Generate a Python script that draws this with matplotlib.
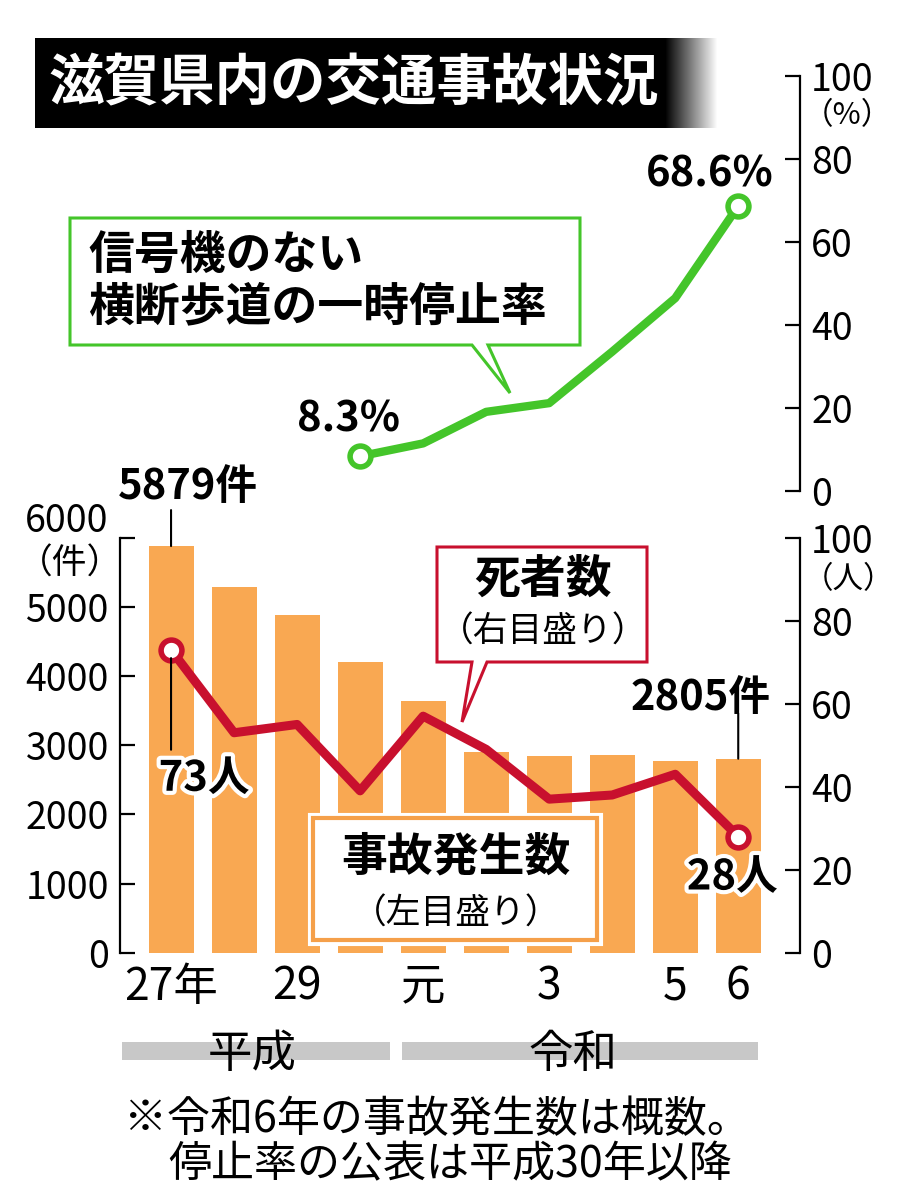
import matplotlib
matplotlib.use('Agg')
import matplotlib.pyplot as plt
import matplotlib.patheffects as pe
from matplotlib.patches import Rectangle, Polygon
import numpy as np

plt.rcParams['font.family'] = ['Noto Sans CJK JP', 'DejaVu Sans']

# ---------------- data ----------------
year_index = list(range(10))               # 平成27年 .. 令和6年
x_tick_labels = ['27年', '', '29', '', '元', '', '3', '', '5', '6']
accidents = [5879, 5290, 4880, 4210, 3645, 2895, 2845, 2865, 2765, 2805]   # 事故発生数(件)
deaths = [73, 53, 55, 39, 57, 49, 37, 38, 43, 28]                          # 死者数(人)
stop_index = [3, 4, 5, 6, 7, 8, 9]                                         # 平成30年以降
stop_rate = [8.3, 11.4, 19.0, 21.1, 33.5, 46.4, 68.6]                      # 一時停止率(%)
left_ticks = [0, 1000, 2000, 3000, 4000, 5000, 6000]
right_ticks = [0, 20, 40, 60, 80, 100]

# ---------------- style ----------------
W, H = 899, 1200
BAR = '#F9A852'
RED = '#C8102E'
GREEN = '#44C52A'
GRAY = '#C8C8C8'

def fx(x):
    return x / W

def fy(y):
    return 1 - y / H

fig = plt.figure(figsize=(W / 100, H / 100), dpi=100)

XL = (-0.81, 9.98)

# ---------------- bottom panel ----------------
ax = fig.add_axes([fx(120), fy(952.7), 680 / W, 415 / H])
ax.bar(year_index, accidents, width=0.714, color=BAR, zorder=1)
ax.set_xlim(*XL)
ax.set_ylim(0, 6000)
for s in ['top', 'right', 'bottom']:
    ax.spines[s].set_visible(False)
ax.spines['left'].set_linewidth(1.6)
ax.set_yticks(left_ticks)
ax.set_yticklabels([str(t) if t != 6000 else '' for t in left_ticks])
ax.tick_params(axis='y', direction='in', length=11, width=1.6, labelsize=27, pad=8)
ax.set_xticks(year_index)
ax.set_xticklabels(x_tick_labels)
ax.tick_params(axis='x', length=0, labelsize=32, pad=8)
ax.annotate('6000', xy=(0, 6000), xycoords=('axes fraction', 'data'),
            xytext=(-12, 16), textcoords='offset pixels', ha='right', va='center', fontsize=27)
ax.annotate('（件）', xy=(0, 6000), xycoords=('axes fraction', 'data'),
            xytext=(2, -26), textcoords='offset pixels', ha='right', va='center', fontsize=25)

ax2 = ax.twinx()
ax2.set_ylim(0, 100)
ax2.set_xlim(*XL)
for s in ['top', 'left', 'bottom']:
    ax2.spines[s].set_visible(False)
ax2.spines['right'].set_linewidth(1.6)
ax2.set_yticks(right_ticks)
ax2.tick_params(axis='y', direction='in', length=11, width=1.6, labelsize=27, pad=8)
ax2.plot(year_index, deaths, color=RED, lw=6.5, solid_joinstyle='round', zorder=3)
ax2.plot([year_index[0], year_index[-1]], [deaths[0], deaths[-1]], 'o', ms=15,
         mfc='white', mec=RED, mew=4, zorder=4)
ax2.annotate('（人）', xy=(1, 100), xycoords=('axes fraction', 'data'),
             xytext=(3, -42), textcoords='offset pixels', ha='left', va='center', fontsize=22)

bold_kw = dict(fontsize=30, fontweight='bold', ha='center', va='center')
outline = [pe.withStroke(linewidth=6, foreground='white')]

# 5879件
ax.annotate('', xy=(year_index[0], accidents[0]), xytext=(0, 36), textcoords='offset pixels',
            arrowprops=dict(arrowstyle='-', lw=1.5, color='black', shrinkA=0, shrinkB=0))
ax.annotate(f'{accidents[0]}件', xy=(year_index[0], accidents[0]), xytext=(17, 59),
            textcoords='offset pixels', **bold_kw)
# 2805件
ax.annotate('', xy=(year_index[-1], accidents[-1]), xytext=(0, 45), textcoords='offset pixels',
            arrowprops=dict(arrowstyle='-', lw=1.5, color='black', shrinkA=0, shrinkB=0))
ax.annotate(f'{accidents[-1]}件', xy=(year_index[-1], accidents[-1]), xytext=(-38, 61),
            textcoords='offset pixels', **bold_kw)
# 73人
ax2.annotate('', xy=(year_index[0], deaths[0]), xytext=(0, -100), textcoords='offset pixels',
             arrowprops=dict(arrowstyle='-', lw=1.5, color='black', shrinkA=0, shrinkB=6), zorder=5)
ax2.annotate(f'{deaths[0]}人', xy=(year_index[0], deaths[0]), xytext=(33, -129),
             textcoords='offset pixels', path_effects=outline, zorder=6, **bold_kw)
# 28人
ax2.annotate(f'{deaths[-1]}人', xy=(year_index[-1], deaths[-1]), xytext=(-6, -41),
             textcoords='offset pixels', path_effects=outline, zorder=6, **bold_kw)

# ---------------- top panel ----------------
axt = fig.add_axes([fx(120), fy(490.7), 680 / W, 415 / H])
axt.set_xlim(*XL)
axt.set_ylim(0, 100)
axt.patch.set_alpha(0)
for s in ['top', 'left', 'bottom']:
    axt.spines[s].set_visible(False)
axt.spines['right'].set_linewidth(1.6)
axt.set_xticks([])
axt.yaxis.tick_right()
axt.set_yticks(right_ticks)
axt.tick_params(axis='y', direction='in', length=11, width=1.6, labelsize=27, pad=8)
axt.plot(stop_index, stop_rate, color=GREEN, lw=6, solid_joinstyle='round', zorder=3)
axt.plot([stop_index[0], stop_index[-1]], [stop_rate[0], stop_rate[-1]], 'o', ms=15,
         mfc='white', mec=GREEN, mew=4, zorder=4)
axt.annotate('（%）', xy=(1, 100), xycoords=('axes fraction', 'data'),
             xytext=(3, -40), textcoords='offset pixels', ha='left', va='center', fontsize=22)
axt.annotate(f'{stop_rate[0]}%', xy=(stop_index[0], stop_rate[0]), xytext=(-12, 37),
             textcoords='offset pixels', **bold_kw)
axt.annotate(f'{stop_rate[-1]}%', xy=(stop_index[-1], stop_rate[-1]), xytext=(-28, 32),
             textcoords='offset pixels', **bold_kw)

# ---------------- title ----------------
axh = fig.add_axes([fx(35), fy(128), (718 - 35) / W, 90 / H])
axh.axis('off')
n = 683
grad = np.zeros((1, n, 4))
alpha = np.ones(n)
start = 630
alpha[start:] = np.linspace(1, 0, n - start)
grad[0, :, 3] = alpha
axh.imshow(grad, aspect='auto', extent=(0, 1, 0, 1))
axh.set_xlim(0, 1)
axh.set_ylim(0, 1)
fig.text(fx(48), fy(84), '滋賀県内の交通事故状況', color='white', fontsize=40,
         fontweight='bold', ha='left', va='center')

# ---------------- callouts ----------------
def callout(pts, ec, lw, outer=False):
    poly = Polygon([(fx(a), fy(b)) for a, b in pts], closed=True, transform=fig.transFigure,
                   facecolor='white', edgecolor=ec, lw=lw, zorder=5)
    if outer:
        poly.set_path_effects([pe.Stroke(linewidth=lw + 5, foreground='white'), pe.Normal()])
    fig.patches.append(poly)

callout([(70, 218), (580, 218), (580, 345), (488, 345), (510, 393), (472, 345), (70, 345)],
        GREEN, 2.2)
fig.text(fx(88), fy(256), '信号機のない', fontsize=33, fontweight='bold', ha='left', va='center', zorder=6)
fig.text(fx(88), fy(307), '横断歩道の一時停止率', fontsize=33, fontweight='bold', ha='left', va='center', zorder=6)

callout([(437, 547), (647, 547), (647, 662), (487, 662), (462, 722), (472, 662), (437, 662)],
        RED, 2.2)
fig.text(fx(543), fy(580), '死者数', fontsize=33, fontweight='bold', ha='center', va='center', zorder=6)
fig.text(fx(543), fy(632), '（右目盛り）', fontsize=25, ha='center', va='center', zorder=6)

callout([(313, 818), (597, 818), (597, 940), (313, 940)], '#F5A04A', 3, outer=True)
fig.text(fx(456), fy(857), '事故発生数', fontsize=33, fontweight='bold', ha='center', va='center', zorder=6)
fig.text(fx(456), fy(914), '（左目盛り）', fontsize=25, ha='center', va='center', zorder=6)

# ---------------- era bands ----------------
for (x0, x1, label) in [(122, 390, '平成'), (402, 758, '令和')]:
    fig.patches.append(Rectangle((fx(x0), fy(1060)), (x1 - x0) / W, 18 / H,
                                 transform=fig.transFigure, facecolor=GRAY, edgecolor='none'))
fig.text(fx(252), fy(1054), '平成', fontsize=32, ha='center', va='center')
fig.text(fx(573), fy(1054), '令和', fontsize=32, ha='center', va='center')

# ---------------- footnote ----------------
fig.text(fx(124), fy(1120), '※令和6年の事故発生数は概数。', fontsize=31, ha='left', va='center')
fig.text(fx(168), fy(1165), '停止率の公表は平成30年以降', fontsize=31, ha='left', va='center')

fig.savefig('out.png', dpi=100)
